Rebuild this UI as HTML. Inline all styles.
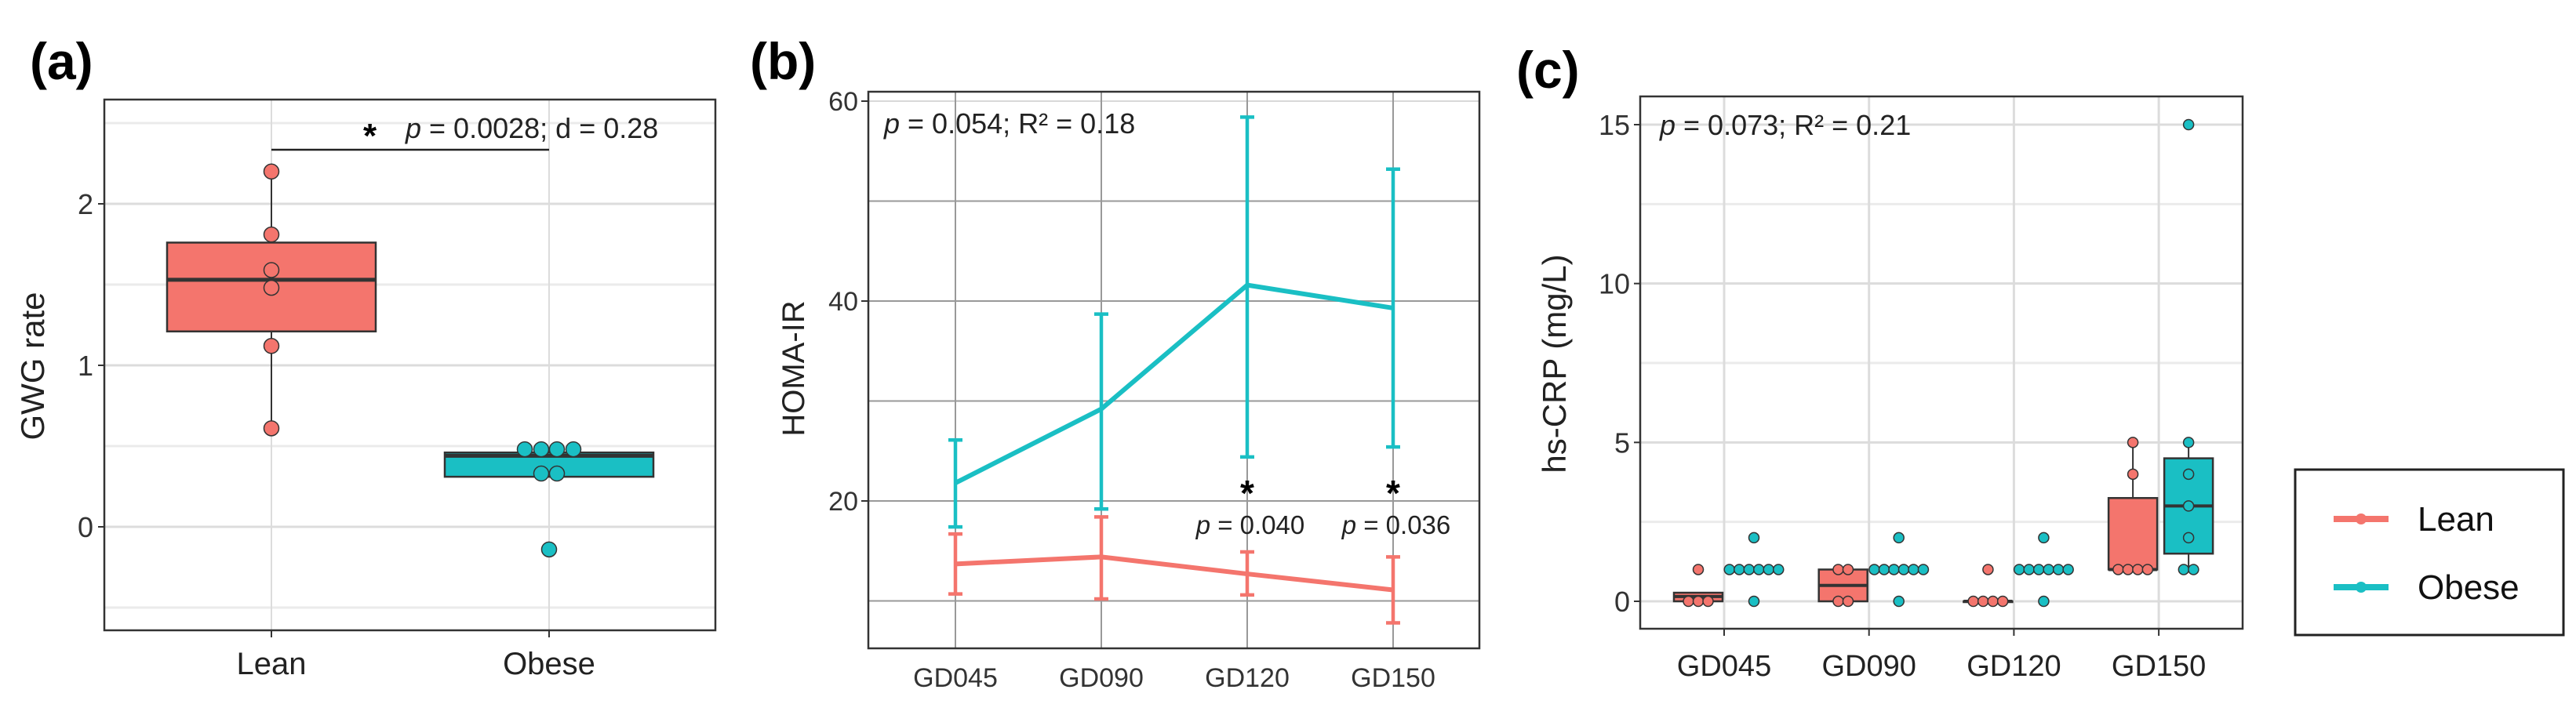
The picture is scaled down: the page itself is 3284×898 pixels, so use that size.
<!DOCTYPE html>
<html><head><meta charset="utf-8"><style>
html,body{margin:0;padding:0;background:#fff;}
svg{display:block;font-family:"Liberation Sans Narrow","Liberation Sans",sans-serif;}
</style></head><body>
<svg id="fig" width="3284" height="898" viewBox="0 0 3284 898" xmlns="http://www.w3.org/2000/svg">
<g id="pa"></g>
<g id="pb"></g>
<g id="pc"></g>
<g id="legend"></g>
</svg>
<script>
// ---------- Panel (a) data ----------
const aGroups = ["Lean", "Obese"];
const aLeanPoints = [2.2, 1.81, 1.59, 1.48, 1.12, 0.61];
const aObesePoints = [0.48, 0.48, 0.48, 0.48, 0.33, 0.33, -0.14];
const aLeanBox = [0.61, 1.21, 1.53, 1.76, 2.2];   // min q1 med q3 max
const aObeseBox = [0.31, 0.31, 0.44, 0.46, 0.48];
const aYTicks = [0, 1, 2];
const aYMinor = [-0.5, 0.5, 1.5, 2.5];

// ---------- Panel (b) data ----------
const bCats = ["GD045", "GD090", "GD120", "GD150"];
const bObeseMean = [21.8, 29.2, 41.6, 39.3];
const bObeseLo = [17.4, 19.2, 24.4, 25.4];
const bObeseHi = [26.1, 38.7, 58.4, 53.2];
const bLeanMean = [13.7, 14.4, 12.7, 11.1];
const bLeanLo = [10.7, 10.2, 10.6, 7.8];
const bLeanHi = [16.7, 18.4, 14.9, 14.4];
const bYTicks = [20, 40, 60];
const bYGrid = [10, 20, 30, 40, 50, 60];

// ---------- Panel (c) data ----------
const cCats = ["GD045", "GD090", "GD120", "GD150"];
const cLeanPoints = [[1, 0, 0, 0], [1, 1, 0, 0], [1, 0, 0, 0, 0], [5, 4, 1, 1, 1, 1]];
const cObesePoints = [[2, 1, 1, 1, 1, 1, 1, 0], [2, 1, 1, 1, 1, 1, 1, 0], [2, 1, 1, 1, 1, 1, 1, 0], [15, 5, 4, 3, 2, 1, 1]];
const cLeanBox = [[0, 0, 0.15, 0.27, 0.27], [0, 0, 0.5, 1, 1], [0, 0, 0, 0, 0], [1, 1, 1, 3.25, 5]];
const cObeseBox = [[0.95, 1, 1, 1, 1], [0.95, 1, 1, 1, 1], [0.95, 1, 1, 1, 1], [1, 1.5, 3, 4.5, 5]];
const cYTicks = [0, 5, 10, 15];
const cYMinor = [2.5, 7.5, 12.5];

const RED = "#F4756D", TEAL = "#1ABFC4", NS = "http://www.w3.org/2000/svg";
function mk(parent, tag, attrs, text) {
  const e = document.createElementNS(NS, tag);
  for (const k in attrs) e.setAttribute(k, attrs[k]);
  if (text !== undefined) e.textContent = text;
  parent.appendChild(e);
  return e;
}
function lin(d0, d1, r0, r1) { return v => r0 + (v - d0) * (r1 - r0) / (d1 - d0); }

// ================= Panel A =================
(function () {
  const g = document.getElementById('pa');
  const L = 133, R = 912, T = 127, B = 804;
  const y = lin(0, 1, 672, 466);
  const xs = [346, 700];
  let t = mk(g, 'text', {x: 38, y: 101, 'font-size': 66, 'font-weight': 'bold'}, '(a)');
   
  aYMinor.forEach(v => mk(g, 'line', {x1: L, x2: R, y1: y(v), y2: y(v), stroke: '#ebebeb', 'stroke-width': 3}));
  aYTicks.forEach(v => {
    let l = mk(g, 'line', {x1: L, x2: R, y1: y(v), y2: y(v), stroke: '#dcdcdc', 'stroke-width': 3});
     
    mk(g, 'line', {x1: L - 8, x2: L, y1: y(v), y2: y(v), stroke: '#333', 'stroke-width': 2});
    let tx = mk(g, 'text', {x: L - 14, y: y(v) + 13, 'font-size': 36, 'text-anchor': 'end', fill: '#333'}, v);
     
  });
  xs.forEach((x, i) => {
    mk(g, 'line', {x1: x, x2: x, y1: T, y2: B, stroke: '#dcdcdc', 'stroke-width': 2});
    mk(g, 'line', {x1: x, x2: x, y1: B, y2: B + 9, stroke: '#333', 'stroke-width': 2});
    let tx = mk(g, 'text', {x: x, y: 860, 'font-size': 40, 'text-anchor': 'middle', fill: '#222'}, aGroups[i]);
     
  });
  [[aLeanBox, RED, aLeanPoints, [0, 0, 0, 0, 0, 0]], [aObeseBox, TEAL, aObesePoints, [-31, -10, 10, 31, -10, 10, 0]]].forEach((d, i) => {
    const [bx, col, pts, off] = d, x = xs[i], w = 266;
    mk(g, 'line', {x1: x, x2: x, y1: y(bx[0]), y2: y(bx[4]), stroke: '#333', 'stroke-width': 2});
    let r = mk(g, 'rect', {x: x - w / 2, y: y(bx[3]), width: w, height: y(bx[1]) - y(bx[3]), fill: col, stroke: '#333', 'stroke-width': 2.5});
     
    mk(g, 'line', {x1: x - w / 2, x2: x + w / 2, y1: y(bx[2]), y2: y(bx[2]), stroke: '#333', 'stroke-width': 5});
    pts.forEach((v, j) => {
      let c = mk(g, 'circle', {cx: x + (off[j] || 0), cy: y(v), r: 9.5, fill: col, stroke: '#333', 'stroke-width': 1.5});
       
    });
  });
  mk(g, 'line', {x1: xs[0], x2: xs[1], y1: 191, y2: 191, stroke: '#222', 'stroke-width': 2.5});
  let s = mk(g, 'text', {x: 463, y: 188, 'font-size': 44, 'font-weight': 'bold'}, '*');
   
  let an = mk(g, 'text', {x: 517, y: 176, 'font-size': 36, fill: '#222'});
   
  mk(an, 'tspan', {'font-style': 'italic'}, 'p');
  mk(an, 'tspan', {}, ' = 0.0028; d = 0.28');
  mk(g, 'rect', {x: L, y: T, width: R - L, height: B - T, fill: 'none', stroke: '#333', 'stroke-width': 2.5});
  let yl = mk(g, 'text', {x: 0, y: 0, 'font-size': 42, 'text-anchor': 'middle', fill: '#222', transform: 'translate(56,467) rotate(-90)'}, 'GWG rate');
   
})();

// ================= Panel B =================
(function () {
  const g = document.getElementById('pb');
  const L = 1107, R = 1886, T = 117, B = 827;
  const y = lin(0, 20, 894, 639);
  const x = i => 1218 + i * 186;
  let t = mk(g, 'text', {x: 956, y: 101, 'font-size': 66, 'font-weight': 'bold'}, '(b)');
   
  bYGrid.forEach(v => {
    let l = mk(g, 'line', {x1: L, x2: R, y1: y(v), y2: y(v), stroke: v === 60 ? '#d8d8d8' : '#999', 'stroke-width': 2});
     
  });
  bYTicks.forEach(v => {
    mk(g, 'line', {x1: L - 9, x2: L, y1: y(v), y2: y(v), stroke: '#333', 'stroke-width': 2});
    let tx = mk(g, 'text', {x: L - 13, y: y(v) + 12, 'font-size': 34, 'text-anchor': 'end', fill: '#333'}, v);
     
  });
  bCats.forEach((c, i) => {
    mk(g, 'line', {x1: x(i), x2: x(i), y1: T, y2: B, stroke: '#999', 'stroke-width': 2});
    let tx = mk(g, 'text', {x: x(i), y: 876, 'font-size': 34, 'text-anchor': 'middle', fill: '#333'}, c);
     
  });
  [[bObeseMean, bObeseLo, bObeseHi, TEAL, 'obese'], [bLeanMean, bLeanLo, bLeanHi, RED, 'lean']].forEach(d => {
    const [m, lo, hi, col, nm] = d;
    m.forEach((v, i) => {
      let eb = mk(g, 'g', {stroke: col, 'stroke-width': 4.5});
       
      mk(eb, 'line', {x1: x(i), x2: x(i), y1: y(lo[i]), y2: y(hi[i])});
      mk(eb, 'line', {x1: x(i) - 9, x2: x(i) + 9, y1: y(lo[i]), y2: y(lo[i])});
      mk(eb, 'line', {x1: x(i) - 9, x2: x(i) + 9, y1: y(hi[i]), y2: y(hi[i])});
    });
    let p = mk(g, 'polyline', {points: m.map((v, i) => x(i) + ',' + y(v)).join(' '), fill: 'none', stroke: col, 'stroke-width': 6, 'stroke-linejoin': 'round'});
     
  });
  let an = mk(g, 'text', {x: 1127, y: 170, 'font-size': 36, fill: '#222'});
   
  mk(an, 'tspan', {'font-style': 'italic'}, 'p');
  mk(an, 'tspan', {}, ' = 0.054; R² = 0.18');
  [[2, '0.040'], [3, '0.036']].forEach(d => {
    let s = mk(g, 'text', {x: x(d[0]), y: 645, 'font-size': 46, 'font-weight': 'bold', 'text-anchor': 'middle'}, '*');
     
    let a = mk(g, 'text', {x: x(d[0]) + 4, y: 681, 'font-size': 33, 'text-anchor': 'middle', fill: '#222'});
     
    mk(a, 'tspan', {'font-style': 'italic'}, 'p');
    mk(a, 'tspan', {}, ' = ' + d[1]);
  });
  mk(g, 'rect', {x: L, y: T, width: R - L, height: B - T, fill: 'none', stroke: '#333', 'stroke-width': 2.5});
  let yl = mk(g, 'text', {x: 0, y: 0, 'font-size': 40, 'text-anchor': 'middle', fill: '#222', transform: 'translate(1025,470) rotate(-90)'}, 'HOMA-IR');
   
})();

// ================= Panel C =================
(function () {
  const g = document.getElementById('pc');
  const L = 2091, R = 2859, T = 123, B = 802;
  const y = lin(0, 15, 767, 159);
  const x = i => 2198 + i * 184.7;
  let t = mk(g, 'text', {x: 1933, y: 112, 'font-size': 66, 'font-weight': 'bold'}, '(c)');
   
  cYMinor.forEach(v => mk(g, 'line', {x1: L, x2: R, y1: y(v), y2: y(v), stroke: '#ebebeb', 'stroke-width': 3}));
  cYTicks.forEach(v => {
    let l = mk(g, 'line', {x1: L, x2: R, y1: y(v), y2: y(v), stroke: '#dcdcdc', 'stroke-width': 3});
     
    mk(g, 'line', {x1: L - 8, x2: L, y1: y(v), y2: y(v), stroke: '#333', 'stroke-width': 2});
    let tx = mk(g, 'text', {x: L - 13, y: y(v) + 13, 'font-size': 36, 'text-anchor': 'end', fill: '#333'}, v);
     
  });
  cCats.forEach((c, i) => {
    mk(g, 'line', {x1: x(i), x2: x(i), y1: T, y2: B, stroke: '#dcdcdc', 'stroke-width': 3});
    mk(g, 'line', {x1: x(i), x2: x(i), y1: B, y2: B + 9, stroke: '#333', 'stroke-width': 2});
    let tx = mk(g, 'text', {x: x(i), y: 862, 'font-size': 38, 'text-anchor': 'middle', fill: '#222'}, c);
     
  });
  [[cLeanBox, cLeanPoints, RED, -33, 'lean'], [cObeseBox, cObesePoints, TEAL, 38, 'obese']].forEach(d => {
    const [boxes, pts, col, off, nm] = d;
    boxes.forEach((bx, i) => {
      const cx = x(i) + off, w = 62;
      mk(g, 'line', {x1: cx, x2: cx, y1: y(bx[0]), y2: y(bx[4]), stroke: '#333', 'stroke-width': 2});
      let r = mk(g, 'rect', {x: cx - w / 2, y: y(bx[3]), width: w, height: Math.max(1, y(bx[1]) - y(bx[3])), fill: col, stroke: '#333', 'stroke-width': 2.5});
       
      mk(g, 'line', {x1: cx - w / 2, x2: cx + w / 2, y1: y(bx[2]), y2: y(bx[2]), stroke: '#333', 'stroke-width': 4});
      const counts = {};
      pts[i].forEach(v => counts[v] = (counts[v] || 0) + 1);
      const seen = {};
      pts[i].forEach(v => {
        const n = counts[v], k = seen[v] = (seen[v] || 0) + 1;
        const px = cx + (k - 1 - (n - 1) / 2) * 12.5;
        let c = mk(g, 'circle', {cx: px, cy: y(v), r: 6.5, fill: col, stroke: '#333', 'stroke-width': 1.5});
         
      });
    });
  });
  let an = mk(g, 'text', {x: 2116, y: 172, 'font-size': 36, fill: '#222'});
   
  mk(an, 'tspan', {'font-style': 'italic'}, 'p');
  mk(an, 'tspan', {}, ' = 0.073; R² = 0.21');
  mk(g, 'rect', {x: L, y: T, width: R - L, height: B - T, fill: 'none', stroke: '#333', 'stroke-width': 2.5});
  let yl = mk(g, 'text', {x: 0, y: 0, 'font-size': 42, 'text-anchor': 'middle', fill: '#222', transform: 'translate(1996,464) rotate(-90)'}, 'hs-CRP (mg/L)');
   
})();

// ================= Legend =================
(function () {
  const g = document.getElementById('legend');
  mk(g, 'rect', {x: 2926, y: 599, width: 342, height: 211, fill: '#fff', stroke: '#222', 'stroke-width': 3});
  [['Lean', RED, 662], ['Obese', TEAL, 749]].forEach(d => {
    let e = mk(g, 'g', {});
     
    mk(e, 'line', {x1: 2975, x2: 3045, y1: d[2], y2: d[2], stroke: d[1], 'stroke-width': 8});
    mk(e, 'circle', {cx: 3010, cy: d[2], r: 7, fill: d[1]});
    mk(e, 'text', {x: 3082, y: d[2] + 15, 'font-size': 44, fill: '#111'}, d[0]);
  });
})();
</script>
</body></html>
